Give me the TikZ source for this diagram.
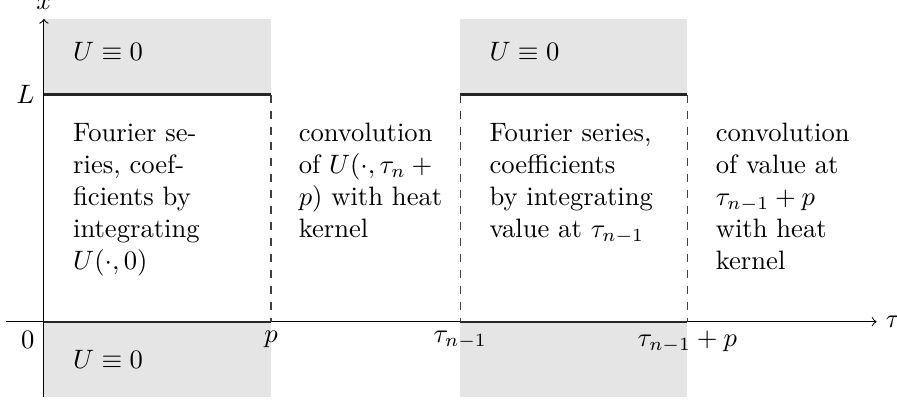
\documentclass[tikz,border=0pt]{standalone}
\usepackage{amsmath,amssymb}
\begin{document}
\begin{tikzpicture}[
  zeroregion/.style={fill=black!10, draw=none},
  boundary/.style={draw=black!85, line width=0.9pt},
  cut/.style={draw=black!75, dashed, line width=0.5pt},
  axis/.style={->, line width=0.4pt},
  blocktext/.style={anchor=north west, inner sep=0pt, align=left, font=\normalsize},
  zerotext/.style={anchor=base west, inner sep=0pt}
]
\useasboundingbox (-0.58,-1.04) rectangle (11.27,4.25);
% shaded regions where U = 0
\fill[zeroregion] (0,3) rectangle (3,4);
\fill[zeroregion] (0,-1) rectangle (3,0);
\fill[zeroregion] (5.5,3) rectangle (8.5,4);
\fill[zeroregion] (5.5,-1) rectangle (8.5,0);
% coordinates
\coordinate (o) at (0,0);
\coordinate (xl) at (-0.5,0);
\coordinate (xr) at (11,0);
\coordinate (yb) at (0,-1);
\coordinate (yt) at (0,4);
\coordinate (L0) at (0,3);
\coordinate (pL) at (3,3);
\coordinate (p0) at (3,0);
\coordinate (aL) at (5.5,3);
\coordinate (a0) at (5.5,0);
\coordinate (bL) at (8.5,3);
\coordinate (b0) at (8.5,0);
% axes
\draw[axis] (xl) -- (xr) node[right] (tau) {$\tau$};
\draw[axis] (yb) -- (yt) node[above] (xlab) {$x$};
% boundaries
\draw[boundary] (L0) -- (pL);
\draw[boundary] (o) -- (p0);
\draw[boundary] (aL) -- (bL);
\draw[boundary] (a0) -- (b0);
\draw[cut] (pL) -- (p0);
\draw[cut] (aL) -- (a0);
\draw[cut] (bL) -- (b0);
% axis labels
\node[left] (Llab) at (L0) {$L$};
\node[below left] (zlab) at (o) {$0$};
\node[below] (plab) at (p0) {$p$};
\node[below] (alab) at (a0) {$\tau_{n-1}$};
\node[below] (blab) at (b0) {$\tau_{n-1}+p$};
% zero labels
\node[zerotext] (z1) at (0.38,3.45) {$U\equiv 0$};
\node[zerotext] (z2) at (0.38,-0.62) {$U\equiv 0$};
\node[zerotext] (z3) at (5.88,3.45) {$U\equiv 0$};
% text blocks
\node[blocktext] (t1) at (0.38,2.63) {\rule{0pt}{7pt}Fourier se-\\ries, coef-\\ficients by\\integrating\\$U(\cdot,0)$};
\node[blocktext] (t2) at (3.36,2.63) {\rule{0pt}{7pt}convolution\\of $U(\cdot,\tau_n +{}$\\$p)$ with heat\\kernel};
\node[blocktext] (t3) at (5.88,2.63) {\rule{0pt}{7pt}Fourier series,\\coefficients\\by integrating\\value at $\tau_{n-1}$};
\node[blocktext] (t4) at (8.87,2.63) {\rule{0pt}{7pt}convolution\\of value at\\$\tau_{n-1}+p$\\with heat\\kernel};
\end{tikzpicture}
\end{document}
